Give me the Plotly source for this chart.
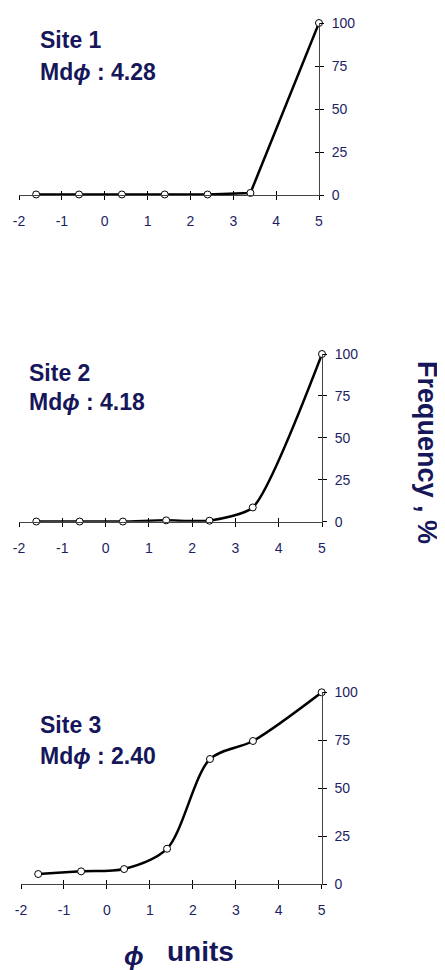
import plotly.graph_objects as go

# ---- data ----
phi = [-1.6, -0.6, 0.4, 1.4, 2.4, 3.4, 5.0]
site1 = [0.3, 0.3, 0.3, 0.3, 0.3, 1.2, 100]
site2 = [0.1, 0.1, 0.1, 0.8, 0.6, 8.5, 100]
site3 = [5.2, 6.6, 7.8, 18.4, 65.2, 74.6, 100]
site_names = ["Site 1", "Site 2", "Site 3"]
medians = ["4.28", "4.18", "2.40"]
x_ticks = [-2, -1, 0, 1, 2, 3, 4, 5]
x_ticktext = ["-2", "-1", "0", "1", "2", "3", "4", "5"]
y_ticks = [0, 25, 50, 75, 100]
y_ticktext = ["0", "25", "50", "75", "100"]

# page body has an 8px margin, so the figure is drawn 8px in from the corner
OFF = 8
W, H = 445 - OFF, 970 - OFF
NAVY = "#16165a"
TICKNAVY = "#1e1e62"
AXIS = "#444444"
FONT = "Liberation Sans, Arial, sans-serif"


def px(x):
    return (x - OFF) / W


def py(y):
    return 1 - (y - OFF) / H


# panel geometry in window pixels: (x_left, x_right, y_top, y_bottom)
panels = [
    (19, 319, 23, 195),
    (19, 322, 354, 521.7),
    (21, 321.7, 692.3, 884),
]
series = [site1, site2, site3]
shapes_line = ["linear", "spline", "spline"]
smooth = [1, 0.6, 0.85]
labels_pos = [
    (38, 40, 72),
    (27, 373, 402),
    (38, 725, 756),
]

fig = go.Figure()
layout = dict(
    width=W, height=H,
    margin=dict(l=0, r=0, t=0, b=0, pad=0, autoexpand=False),
    paper_bgcolor="white", plot_bgcolor="white",
    showlegend=False,
    font=dict(family=FONT, color=TICKNAVY),
)

annotations = []
for i, (vals, pan, shp, lp) in enumerate(zip(series, panels, shapes_line, labels_pos)):
    k = i + 1
    xa = "x" if k == 1 else f"x{k}"
    ya = "y" if k == 1 else f"y{k}"
    xl, xr, yt, yb = pan
    fig.add_trace(go.Scatter(
        x=phi, y=vals, xaxis=xa, yaxis=ya,
        mode="lines+markers",
        line=dict(color="black", width=2.5, shape=shp, smoothing=smooth[i]),
        marker=dict(size=7, color="white", line=dict(color="black", width=1)),
        cliponaxis=False,
    ))
    base_x = dict(
        domain=[px(xl), px(xr)], range=[-2, 5], anchor=ya, automargin=False,
        tickvals=x_ticks, ticktext=x_ticktext,
        ticks="outside", ticklen=4, tickwidth=1,
        tickcolor="black", showline=True, linecolor=AXIS, linewidth=1,
        showgrid=False, zeroline=False,
        tickfont=dict(size=14, color=TICKNAVY, family=FONT),
        ticklabelstandoff=9,
    )
    base_y = dict(
        domain=[py(yb), py(yt)], range=[0, 100], anchor=xa, side="right",
        automargin=False,
        tickvals=y_ticks, ticktext=y_ticktext,
        ticks="outside", ticklen=4, tickwidth=1,
        tickcolor="black", showline=True, linecolor=AXIS, linewidth=1,
        showgrid=False, zeroline=False,
        tickfont=dict(size=14, color=TICKNAVY, family=FONT),
        ticklabelstandoff=5,
    )
    layout["xaxis" if k == 1 else f"xaxis{k}"] = base_x
    layout["yaxis" if k == 1 else f"yaxis{k}"] = base_y
    # overlay axes to draw the inner half of the crossing ticks
    ox = f"x{k + 3}"
    oy = f"y{k + 3}"
    layout[f"xaxis{k + 3}"] = dict(
        overlaying=xa, anchor=ya, range=[-2, 5], tickvals=x_ticks,
        automargin=False,
        ticks="inside", ticklen=4, tickwidth=1, tickcolor="black",
        showticklabels=False, showgrid=False, zeroline=False, showline=False,
    )
    layout[f"yaxis{k + 3}"] = dict(
        overlaying=ya, anchor=xa, side="right", range=[0, 100], tickvals=y_ticks,
        automargin=False,
        ticks="inside", ticklen=4, tickwidth=1, tickcolor="black",
        showticklabels=False, showgrid=False, zeroline=False, showline=False,
    )
    # invisible trace to activate overlay axes
    fig.add_trace(go.Scatter(x=[phi[0]], y=[vals[0]], xaxis=ox, yaxis=oy,
                             mode="markers", marker=dict(opacity=0),
                             hoverinfo="skip"))
    lx, ly1, ly2 = lp
    annotations.append(dict(
        x=px(lx), y=py(ly1), xref="paper", yref="paper",
        xanchor="left", yanchor="middle", showarrow=False,
        text=f"<b>{site_names[i]}</b>",
        font=dict(size=23, color=NAVY, family=FONT),
    ))
    annotations.append(dict(
        x=px(lx), y=py(ly2), xref="paper", yref="paper",
        xanchor="left", yanchor="middle", showarrow=False,
        text=f"<b>Md<i>ϕ</i> : {medians[i]}</b>",
        font=dict(size=23, color=NAVY, family=FONT),
    ))

annotations.append(dict(
    x=px(427), y=py(452), xref="paper", yref="paper",
    xanchor="center", yanchor="middle", showarrow=False, textangle=90,
    text="<b>Frequency , %</b>",
    font=dict(size=27, color=NAVY, family=FONT),
))
annotations.append(dict(
    x=px(134), y=py(956), xref="paper", yref="paper",
    xanchor="center", yanchor="middle", showarrow=False,
    text="<b><i>ϕ</i></b>",
    font=dict(size=26, color=NAVY, family=FONT),
))
annotations.append(dict(
    x=px(165), y=py(951), xref="paper", yref="paper",
    xanchor="left", yanchor="middle", showarrow=False,
    text="<b>units</b>",
    font=dict(size=28, color=NAVY, family=FONT),
))
layout["annotations"] = annotations

fig.update_layout(**layout)
fig.write_html("out.html")
